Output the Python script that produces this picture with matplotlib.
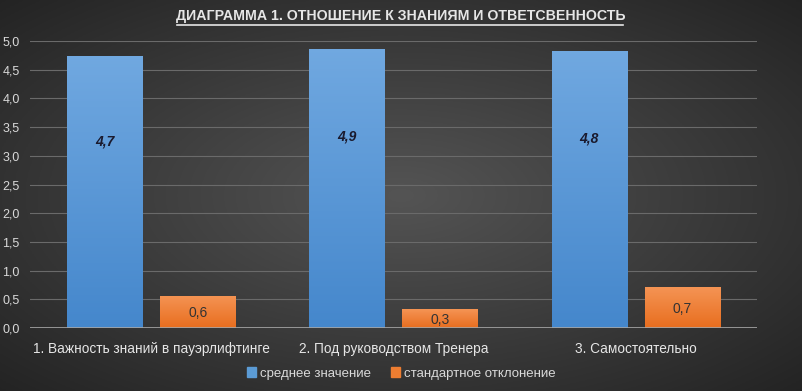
import numpy as np
import matplotlib
matplotlib.use("Agg")
import matplotlib.pyplot as plt
from matplotlib.lines import Line2D
from matplotlib.ticker import FuncFormatter

plt.rcParams['font.family'] = ['Liberation Sans', 'DejaVu Sans']

# data
categories = ['1. Важность знаний в пауэрлифтинге', '2. Под руководством Тренера', '3. Самостоятельно']
mean_vals = [4.74, 4.86, 4.83]
std_vals = [0.56, 0.33, 0.71]
mean_labels = ['4,7', '4,9', '4,8']
std_labels = ['0,6', '0,3', '0,7']
series_names = ['среднее значение', 'стандартное отклонение']
title = 'ДИАГРАММА 1. ОТНОШЕНИЕ К ЗНАНИЯМ И ОТВЕТСВЕННОСТЬ'

fig = plt.figure(figsize=(8.02, 3.91), dpi=100)

# radial background gradient
bg = fig.add_axes([0, 0, 1, 1], zorder=-10)
yy, xx = np.mgrid[-1:1:200j, -1:1:400j]
r = np.sqrt(xx ** 2 + yy ** 2) / np.sqrt(2)
shade = 0.33 - 0.19 * r
bg.imshow(np.dstack([shade] * 3), aspect='auto', extent=[0, 1, 0, 1])
bg.set_axis_off()

ax = fig.add_axes([0.0374, 0.161, 0.9065, 0.734])
ax.patch.set_alpha(0)

x = np.arange(len(categories))
w = 0.31
off = 0.192

def grad_bars(bars, top, bottom):
    for b in bars:
        x0, y0 = b.get_x(), b.get_y()
        h = b.get_height()
        g = np.linspace(0, 1, 100)[:, None, None]
        img = np.array(bottom)[None, None, :] * (1 - g) + np.array(top)[None, None, :] * g
        im = ax.imshow(img, extent=[x0, x0 + b.get_width(), y0, y0 + h],
                       origin='lower', aspect='auto', zorder=3)
        im.set_clip_path(b)

b1 = ax.bar(x - off, mean_vals, w, color='#5b9bd5', zorder=2)
b2 = ax.bar(x + off, std_vals, w, color='#ed7d31', zorder=2)
grad_bars(b1, (0.44, 0.66, 0.88), (0.27, 0.53, 0.80))
grad_bars(b2, (0.96, 0.58, 0.33), (0.91, 0.43, 0.12))

for xi, v, lab in zip(x, mean_vals, mean_labels):
    ax.text(xi - off, v * 0.685, lab, ha='center', va='center', fontsize=10,
            fontweight='bold', fontstyle='italic', color='#1a1a2e', zorder=5)
for xi, v, lab in zip(x, std_vals, std_labels):
    ax.text(xi + off, v / 2 - 0.02, lab, ha='center', va='center', fontsize=10,
            color='#333333', zorder=5)

ax.set_xlim(-0.5, 2.5)
ax.set_ylim(0, 5)
ax.set_yticks(np.arange(0, 5.01, 0.5))
ax.yaxis.set_major_formatter(FuncFormatter(lambda v, p: f'{v:.1f}'.replace('.', ',')))
ax.grid(axis='y', color='#6a6a6a', linewidth=0.8, zorder=0)
ax.axhline(0, color='#a6a6a6', linewidth=1.2, zorder=4)
for s in ax.spines.values():
    s.set_visible(False)
ax.tick_params(axis='y', length=0, colors='#d9d9d9', labelsize=9)
for t in ax.get_yticklabels():
    t.set_horizontalalignment('left')
ax.yaxis.set_tick_params(pad=20)
ax.set_xticks(x)
ax.set_xticklabels(categories)
ax.tick_params(axis='x', length=0, colors='#e6e6e6', labelsize=9.8, pad=10)

fig.text(0.5, 0.958, title, ha='center', va='center', fontsize=10.2,
         fontweight='bold', color='#e6e6e6')
fig.add_artist(Line2D([0.221, 0.777], [0.937, 0.937], color='#e6e6e6', linewidth=1.2))

handles = [plt.Rectangle((0, 0), 1, 1, color='#5b9bd5'),
           plt.Rectangle((0, 0), 1, 1, color='#ed7d31')]
fig.legend(handles, series_names, loc='center', bbox_to_anchor=(0.5, 0.045), ncol=2,
           frameon=False, fontsize=9.5, labelcolor='#d9d9d9', handlelength=0.7,
           handleheight=0.7, handletextpad=0.3, columnspacing=1.5)

fig.savefig('out.png', dpi=100)
